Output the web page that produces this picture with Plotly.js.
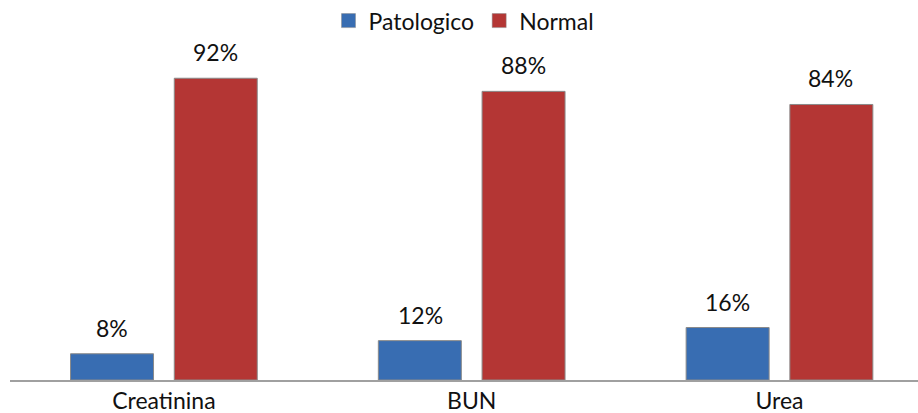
<!DOCTYPE html>
<html><head><meta charset="utf-8">
<script src="https://cdn.plot.ly/plotly-3.0.1.min.js"></script>
<style>html,body{margin:0;padding:0;background:#fff;overflow:hidden}</style>
</head><body>
<div id="chart" style="width:918px;height:413px"></div>
<script>
const categories = ["Creatinina", "BUN", "Urea"];
const patologico = [8, 12, 16];
const normal = [92, 88, 84];
const seriesNames = ["Patologico", "Normal"];
const colors = ["#386db2", "#b43634"];

const fontFam = "Lato, Carlito, 'Liberation Sans', sans-serif";
const traces = [
  {type:"bar", name:seriesNames[0], x:categories, y:patologico, showlegend:false,
   marker:{color:colors[0], line:{color:"#8a8a8a", width:1}}},
  {type:"bar", name:seriesNames[1], x:categories, y:normal, showlegend:false,
   marker:{color:colors[1], line:{color:"#8a8a8a", width:1}}},
  {type:"scatter", mode:"markers", name:seriesNames[0], x:[null], y:[null], showlegend:true,
   marker:{symbol:"square", size:14, color:colors[0], line:{color:"#8a8a8a", width:0.5}}},
  {type:"scatter", mode:"markers", name:seriesNames[1], x:[null], y:[null], showlegend:true,
   marker:{symbol:"square", size:14, color:colors[1], line:{color:"#8a8a8a", width:0.5}}}
];
const annotations = [];
[[patologico,-51.5],[normal,51.5]].forEach(([vals,shift])=>{
  vals.forEach((v,i)=>annotations.push({x:categories[i], y:v, xref:"x", yref:"y",
    text:v+"%", showarrow:false, xshift:shift, yshift:10, yanchor:"bottom",
    font:{size:23,family:fontFam,color:"#111"}}));
});
const layout = {
  width:918, height:413,
  margin:{l:10, r:0, t:52, b:33},
  paper_bgcolor:"#fff", plot_bgcolor:"#fff",
  font:{family:fontFam, size:23, color:"#111"},
  barmode:"group", bargap:0.326, bargroupgap:0.2,
  showlegend:true,
  legend:{orientation:"h", x:0.5, xanchor:"center", y:0.95, yanchor:"middle", yref:"container",
          font:{size:23,family:fontFam,color:"#111"}, traceorder:"normal", itemwidth:30},
  annotations: annotations,
  xaxis:{range:[-0.5,2.45], showline:true, linecolor:"#a0a0a0", linewidth:1.5,
         ticks:"", tickfont:{size:23,family:fontFam,color:"#111"}, showgrid:false, zeroline:false, fixedrange:true},
  yaxis:{range:[0,100], visible:false, showgrid:false, zeroline:false}
};
Plotly.newPlot("chart", traces, layout, {displayModeBar:false, staticPlot:true});
</script>
</body></html>
